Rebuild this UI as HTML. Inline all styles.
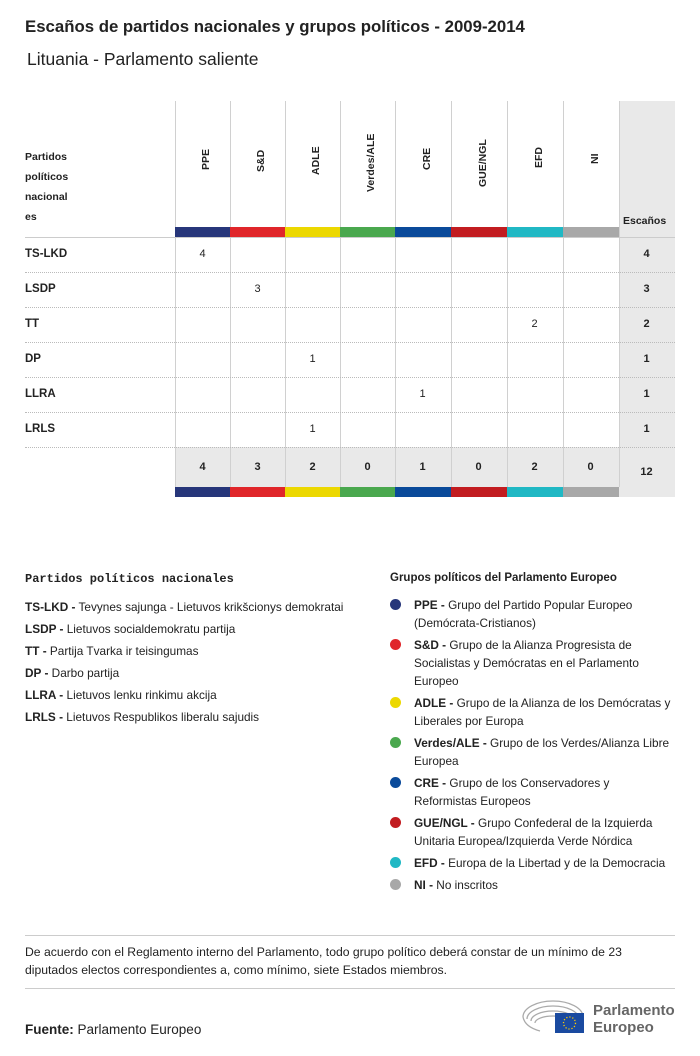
<!DOCTYPE html>
<html><head><meta charset="utf-8"><style>
body{margin:0;width:700px;height:1056px;background:#fff;font-family:"Liberation Sans",sans-serif;color:#222;position:relative;overflow:hidden}
.a{position:absolute}
.b{font-weight:bold}
.vl{position:absolute;width:1px;background:#d0d0d0}
.hd{position:absolute;border-top:1px dotted #bbb}
.num{position:absolute;width:55px;text-align:center;font-size:11px}
.rot{position:absolute;transform:rotate(-90deg);transform-origin:left top;font-size:10.5px;font-weight:bold;white-space:nowrap}
.dot{position:absolute;width:11px;height:11px;border-radius:50%}
.lg{position:absolute;font-size:11.8px;line-height:18px;white-space:nowrap}
</style></head><body>
<div class="a b" style="left:25px;top:17px;font-size:16.8px">Escaños de partidos nacionales y grupos políticos - 2009-2014</div>
<div class="a" style="left:27px;top:49px;font-size:17.5px">Lituania - Parlamento saliente</div>

<div class="a" style="left:619px;top:101px;width:56px;height:396px;background:#e9e9e9"></div>
<div class="a" style="left:175px;top:447px;width:444px;height:40px;background:#e9e9e9"></div>
<div class="a b" style="left:623px;top:215px;font-size:10.5px">Escaños</div>
<div class="a b" style="left:25px;top:147px;font-size:10.5px;line-height:20px">Partidos<br>políticos<br>nacional<br>es</div>

<div class="vl" style="left:175px;top:101px;height:386px"></div>
<div class="vl" style="left:230px;top:101px;height:386px"></div>
<div class="vl" style="left:285px;top:101px;height:386px"></div>
<div class="vl" style="left:340px;top:101px;height:386px"></div>
<div class="vl" style="left:395px;top:101px;height:386px"></div>
<div class="vl" style="left:451px;top:101px;height:386px"></div>
<div class="vl" style="left:507px;top:101px;height:386px"></div>
<div class="vl" style="left:563px;top:101px;height:386px"></div>
<div class="vl" style="left:619px;top:101px;height:386px"></div>

<div class="rot" style="left:200px;top:170px">PPE</div>
<div class="rot" style="left:255px;top:172px">S&amp;D</div>
<div class="rot" style="left:310px;top:175px">ADLE</div>
<div class="rot" style="left:365px;top:192px">Verdes/ALE</div>
<div class="rot" style="left:421px;top:170px">CRE</div>
<div class="rot" style="left:477px;top:187px">GUE/NGL</div>
<div class="rot" style="left:533px;top:168px">EFD</div>
<div class="rot" style="left:589px;top:164px">NI</div>

<div class="a" style="left:175px;top:227px;width:444px;height:10px;display:flex">
<div style="flex:55;background:#27367a"></div><div style="flex:55;background:#e0262a"></div><div style="flex:55;background:#ecd800"></div><div style="flex:55;background:#4aa84e"></div><div style="flex:56;background:#0a4a9a"></div><div style="flex:56;background:#c21c20"></div><div style="flex:56;background:#20b8c4"></div><div style="flex:56;background:#a8a8a8"></div></div>
<div class="a" style="left:175px;top:487px;width:444px;height:10px;display:flex">
<div style="flex:55;background:#27367a"></div><div style="flex:55;background:#e0262a"></div><div style="flex:55;background:#ecd800"></div><div style="flex:55;background:#4aa84e"></div><div style="flex:56;background:#0a4a9a"></div><div style="flex:56;background:#c21c20"></div><div style="flex:56;background:#20b8c4"></div><div style="flex:56;background:#a8a8a8"></div></div>

<div class="a" style="left:25px;top:237px;width:650px;border-top:1px solid #ccc"></div>
<div class="hd" style="left:25px;top:272px;width:650px"></div>
<div class="hd" style="left:25px;top:307px;width:650px"></div>
<div class="hd" style="left:25px;top:342px;width:650px"></div>
<div class="hd" style="left:25px;top:377px;width:650px"></div>
<div class="hd" style="left:25px;top:412px;width:650px"></div>
<div class="hd" style="left:25px;top:447px;width:650px"></div>

<div class="a b" style="left:25px;top:248px;font-size:11.5px">TS-LKD</div>
<div class="a b" style="left:25px;top:283px;font-size:11.5px">LSDP</div>
<div class="a b" style="left:25px;top:318px;font-size:11.5px">TT</div>
<div class="a b" style="left:25px;top:353px;font-size:11.5px">DP</div>
<div class="a b" style="left:25px;top:388px;font-size:11.5px">LLRA</div>
<div class="a b" style="left:25px;top:423px;font-size:11.5px">LRLS</div>

<div class="num" style="left:175px;top:248px">4</div>
<div class="num" style="left:230px;top:283px">3</div>
<div class="num" style="left:507px;top:318px">2</div>
<div class="num" style="left:285px;top:353px">1</div>
<div class="num" style="left:395px;top:388px">1</div>
<div class="num" style="left:285px;top:423px">1</div>
<div class="num b" style="left:619px;top:248px">4</div>
<div class="num b" style="left:619px;top:283px">3</div>
<div class="num b" style="left:619px;top:318px">2</div>
<div class="num b" style="left:619px;top:353px">1</div>
<div class="num b" style="left:619px;top:388px">1</div>
<div class="num b" style="left:619px;top:423px">1</div>
<div class="num b" style="left:619px;top:466px">12</div>
<div class="num b" style="left:175px;top:461px">4</div>
<div class="num b" style="left:230px;top:461px">3</div>
<div class="num b" style="left:285px;top:461px">2</div>
<div class="num b" style="left:340px;top:461px">0</div>
<div class="num b" style="left:395px;top:461px">1</div>
<div class="num b" style="left:451px;top:461px">0</div>
<div class="num b" style="left:507px;top:461px">2</div>
<div class="num b" style="left:563px;top:461px">0</div>

<div class="a b" style="left:25px;top:572px;font-size:12px;font-family:'Liberation Mono',monospace">Partidos políticos nacionales</div>
<div class="lg" style="left:25px;top:596px;line-height:22px"><b>TS-LKD -</b> Tevynes sajunga - Lietuvos krikšcionys demokratai<br><b>LSDP -</b> Lietuvos socialdemokratu partija<br><b>TT -</b> Partija Tvarka ir teisingumas<br><b>DP -</b> Darbo partija<br><b>LLRA -</b> Lietuvos lenku rinkimu akcija<br><b>LRLS -</b> Lietuvos Respublikos liberalu sajudis</div>

<div class="a b" style="left:390px;top:572px;font-size:11.5px">Grupos políticos del Parlamento Europeo</div>
<div class="dot" style="left:390px;top:599px;background:#27367a"></div>
<div class="lg" style="left:414px;top:596px"><b>PPE -</b> Grupo del Partido Popular Europeo<br>(Demócrata-Cristianos)</div>
<div class="dot" style="left:390px;top:639px;background:#e0262a"></div>
<div class="lg" style="left:414px;top:636px"><b>S&amp;D -</b> Grupo de la Alianza Progresista de<br>Socialistas y Demócratas en el Parlamento<br>Europeo</div>
<div class="dot" style="left:390px;top:697px;background:#ecd800"></div>
<div class="lg" style="left:414px;top:694px"><b>ADLE -</b> Grupo de la Alianza de los Demócratas y<br>Liberales por Europa</div>
<div class="dot" style="left:390px;top:737px;background:#4aa84e"></div>
<div class="lg" style="left:414px;top:734px"><b>Verdes/ALE -</b> Grupo de los Verdes/Alianza Libre<br>Europea</div>
<div class="dot" style="left:390px;top:777px;background:#0a4a9a"></div>
<div class="lg" style="left:414px;top:774px"><b>CRE -</b> Grupo de los Conservadores y<br>Reformistas Europeos</div>
<div class="dot" style="left:390px;top:817px;background:#c21c20"></div>
<div class="lg" style="left:414px;top:814px"><b>GUE/NGL -</b> Grupo Confederal de la Izquierda<br>Unitaria Europea/Izquierda Verde Nórdica</div>
<div class="dot" style="left:390px;top:857px;background:#20b8c4"></div>
<div class="lg" style="left:414px;top:854px"><b>EFD -</b> Europa de la Libertad y de la Democracia</div>
<div class="dot" style="left:390px;top:879px;background:#a8a8a8"></div>
<div class="lg" style="left:414px;top:876px"><b>NI -</b> No inscritos</div>

<div class="a" style="left:25px;top:935px;width:650px;border-top:1px solid #ccc"></div>
<div class="lg" style="left:25px;top:943px;font-size:12.2px">De acuerdo con el Reglamento interno del Parlamento, todo grupo político deberá constar de un mínimo de 23<br>diputados electos correspondientes a, como mínimo, siete Estados miembros.</div>
<div class="a" style="left:25px;top:988px;width:650px;border-top:1px solid #ccc"></div>
<div class="a" style="left:25px;top:1022px;font-size:13.5px"><b>Fuente:</b> Parlamento Europeo</div>

<svg class="a" style="left:520px;top:997px" width="66" height="38">
<g fill="none" stroke="#aaa" stroke-width="1.3">
<path d="M3 20 A30 16 0 0 1 63 20"/><path d="M7 22 A26 13 0 0 1 59 22"/><path d="M11 24 A22 10 0 0 1 55 24"/><path d="M15 26 A18 7 0 0 1 51 26"/>
<path d="M3 20 Q5 30 20 34"/></g>
<rect x="35" y="16" width="29" height="20" fill="#1a4aa0"/>
<circle cx="49.5" cy="26" r="6" fill="none" stroke="#ffcc00" stroke-dasharray="1.2 1.9" stroke-width="1.3"/>
</svg>
<div class="a b" style="left:593px;top:1002px;font-size:15px;color:#666;line-height:17px">Parlamento<br>Europeo</div>
</body></html>
